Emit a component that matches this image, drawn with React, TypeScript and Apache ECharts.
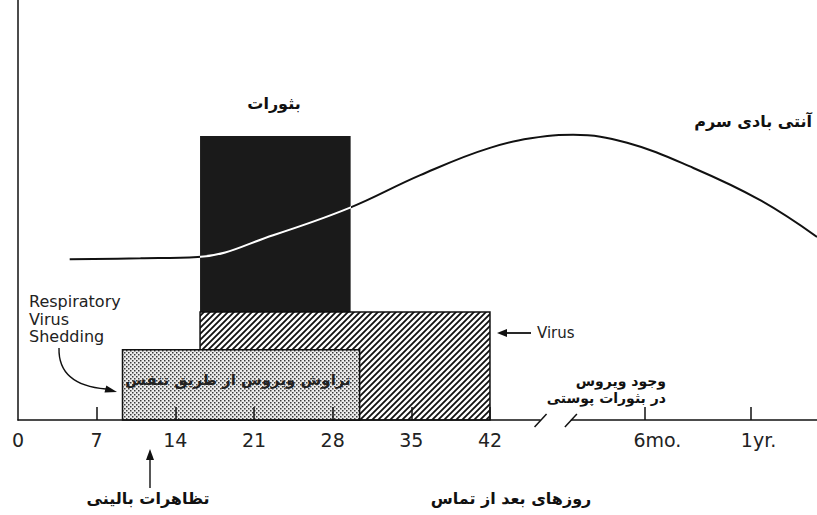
import React, { useEffect, useRef } from 'react';
import * as echarts from 'echarts';

// x units: days after exposure (0–42), then a compressed scale after the axis break
const tickDays = [7, 14, 21, 28, 35, 42, 55.8, 65.2];
const labelDays = [0, 7, 14, 21, 28, 35, 42, 56.9, 65.9];
const tickLabels = ['0', '7', '14', '21', '28', '35', '42', '6mo.', '1yr.'];

// [start, end, level]
const rashBox = [16.2, 29.6, 67.6];
const skinVirusBox = [16.2, 42, 25.7];
const respiratoryBox = [9.3, 30.4, 16.7];

const antibodyX = [4.6, 10.9, 16.0, 22.7, 29.5, 35.8, 42.0, 47.1, 49.4, 54.2, 60.1, 66.0, 71.1];
const antibodyY = [38.3, 38.5, 38.8, 44.0, 50.5, 58.3, 64.8, 67.6, 67.9, 66.0, 60.0, 52.4, 43.6];

const axisBreak = [46.5, 49.2];

function makeHatch() {
  const c = document.createElement('canvas');
  c.width = 6; c.height = 6;
  const ctx = c.getContext('2d')!;
  ctx.fillStyle = '#fff';
  ctx.fillRect(0, 0, 6, 6);
  ctx.strokeStyle = '#111';
  ctx.lineWidth = 1.8;
  ctx.beginPath();
  ctx.moveTo(-1, 7); ctx.lineTo(7, -1);
  ctx.moveTo(-1, 1); ctx.lineTo(1, -1);
  ctx.moveTo(5, 7); ctx.lineTo(7, 5);
  ctx.stroke();
  return c;
}

function makeDots() {
  const c = document.createElement('canvas');
  c.width = 4; c.height = 4;
  const ctx = c.getContext('2d')!;
  ctx.fillStyle = '#ececec';
  ctx.fillRect(0, 0, 4, 4);
  ctx.fillStyle = '#3a3a3a';
  ctx.fillRect(0, 0, 1.5, 1.5);
  ctx.fillRect(2, 2, 1.5, 1.5);
  return c;
}

const boxRender = (fill: any, stroke: string | null) => (params: any, api: any) => {
  const p0 = api.coord([api.value(0), api.value(2)]);
  const p1 = api.coord([api.value(1), 0]);
  return {
    type: 'rect',
    shape: { x: p0[0], y: p0[1], width: p1[0] - p0[0], height: p1[1] - p0[1] },
    style: { fill, stroke: stroke || undefined, lineWidth: stroke ? 1.5 : 0 },
  };
};

export default function App() {
  const ref = useRef<HTMLDivElement>(null);
  useEffect(() => {
    const chart = echarts.init(ref.current!, null, { renderer: 'svg' });
    const hatch = makeHatch();
    const dots = makeDots();
    const fa = 'DejaVu Sans';
    chart.setOption({
      animation: false,
      grid: { left: 18, right: 0, top: 0, bottom: 95 },
      xAxis: {
        type: 'value', min: 0, max: 71.1, z: 10,
        axisLine: { show: true, lineStyle: { color: '#111', width: 1.5 } },
        axisTick: { show: true, inside: true, length: 13, customValues: tickDays, lineStyle: { color: '#111', width: 1.5 } },
        axisLabel: {
          show: true, customValues: labelDays, margin: 10,
          fontFamily: fa, fontSize: 19, color: '#222',
          formatter: (v: number) => tickLabels[labelDays.indexOf(v)] ?? '',
        },
        splitLine: { show: false },
      },
      yAxis: {
        type: 'value', min: 0, max: 100,
        axisLine: { show: true, lineStyle: { color: '#111', width: 1.5 } },
        axisTick: { show: false }, axisLabel: { show: false }, splitLine: { show: false },
      },
      visualMap: {
        type: 'piecewise', show: false, dimension: 0, seriesIndex: 3,
        pieces: [
          { gte: -10, lt: rashBox[0], color: '#111' },
          { gte: rashBox[0], lte: rashBox[1], color: '#fff' },
          { gt: rashBox[1], lte: 200, color: '#111' },
        ],
      },
      series: [
        { type: 'custom', z: 2, renderItem: boxRender('#1a1a1a', null), data: [rashBox], encode: { x: [0, 1], y: 2 } },
        { type: 'custom', z: 3, renderItem: boxRender({ image: hatch, repeat: 'repeat', imageWidth: 6, imageHeight: 6 }, '#111'), data: [skinVirusBox], encode: { x: [0, 1], y: 2 } },
        { type: 'custom', z: 4, renderItem: boxRender({ image: dots, repeat: 'repeat', imageWidth: 4, imageHeight: 4 }, '#111'), data: [respiratoryBox], encode: { x: [0, 1], y: 2 } },
        {
          type: 'line', z: 5, smooth: 0.4, symbol: 'none',
          lineStyle: { width: 2 },
          data: antibodyX.map((x, i) => [x, antibodyY[i]]),
        },
        {
          type: 'custom', z: 20, data: [axisBreak], encode: { x: [0, 1] },
          renderItem: (params: any, api: any) => {
            const a = api.coord([api.value(0), 0]);
            const b = api.coord([api.value(1), 0]);
            return {
              type: 'group',
              children: [
                { type: 'rect', shape: { x: a[0], y: a[1] - 2, width: b[0] - a[0], height: 4 }, style: { fill: '#fff' } },
                { type: 'line', shape: { x1: a[0] - 6, y1: a[1] + 7, x2: a[0] + 6, y2: a[1] - 6 }, style: { stroke: '#111', lineWidth: 1.5 } },
                { type: 'line', shape: { x1: b[0] - 6, y1: b[1] + 7, x2: b[0] + 6, y2: b[1] - 6 }, style: { stroke: '#111', lineWidth: 1.5 } },
              ],
            };
          },
        },
      ],
      graphic: [
        { type: 'text', z: 30, x: 274, y: 103, style: { text: 'بثورات', font: `bold 16px "${fa}"`, fill: '#111', align: 'center', verticalAlign: 'middle' } },
        { type: 'text', z: 30, x: 812, y: 121, style: { text: 'آنتی بادی سرم', font: `bold 16px "${fa}"`, fill: '#111', align: 'right', verticalAlign: 'middle' } },
        { type: 'text', z: 30, x: 29, y: 293, style: { text: 'Respiratory\nVirus\nShedding', font: `16px "${fa}"`, lineHeight: 17.5, fill: '#222', align: 'left', verticalAlign: 'top' } },
        { type: 'bezierCurve', z: 30, shape: { x1: 59, y1: 348, cpx1: 58, cpy1: 385, x2: 106, y2: 389 }, style: { stroke: '#111', lineWidth: 1.4, fill: 'none' } },
        { type: 'polygon', z: 30, shape: { points: [[117, 392], [106.3, 385.6], [104.5, 392.4]] }, style: { fill: '#111' } },
        { type: 'text', z: 30, x: 238, y: 380, style: { text: 'تراوش ویروس از طریق تنفس', font: `bold 15px "${fa}"`, fill: '#222', align: 'center', verticalAlign: 'middle' } },
        { type: 'line', z: 30, shape: { x1: 531, y1: 333, x2: 504, y2: 333 }, style: { stroke: '#111', lineWidth: 1.8 } },
        { type: 'polygon', z: 30, shape: { points: [[497, 333], [507, 329], [507, 337]] }, style: { fill: '#111' } },
        { type: 'text', z: 30, x: 537, y: 333, style: { text: 'Virus', font: `15px "${fa}"`, fill: '#222', align: 'left', verticalAlign: 'middle' } },
        { type: 'text', z: 30, x: 666, y: 381, style: { text: 'وجود ویروس', font: `bold 14px "${fa}"`, fill: '#111', align: 'right', verticalAlign: 'middle' } },
        { type: 'text', z: 30, x: 666, y: 398, style: { text: 'در بثورات پوستی', font: `bold 14px "${fa}"`, fill: '#111', align: 'right', verticalAlign: 'middle' } },
        { type: 'line', z: 30, shape: { x1: 150, y1: 488, x2: 150, y2: 458 }, style: { stroke: '#111', lineWidth: 1.4 } },
        { type: 'polygon', z: 30, shape: { points: [[150, 449], [146, 460], [154, 460]] }, style: { fill: '#111' } },
        { type: 'text', z: 30, x: 148, y: 498, style: { text: 'تظاهرات بالینی', font: `bold 16px "${fa}"`, fill: '#111', align: 'center', verticalAlign: 'middle' } },
        { type: 'text', z: 30, x: 511, y: 498, style: { text: 'روزهای بعد از تماس', font: `bold 16px "${fa}"`, fill: '#111', align: 'center', verticalAlign: 'middle' } },
      ],
    });
    return () => chart.dispose();
  }, []);
  return <div ref={ref} style={{ position: 'fixed', left: 0, top: 0, width: 817, height: 515, background: '#fff' }} />;
}
